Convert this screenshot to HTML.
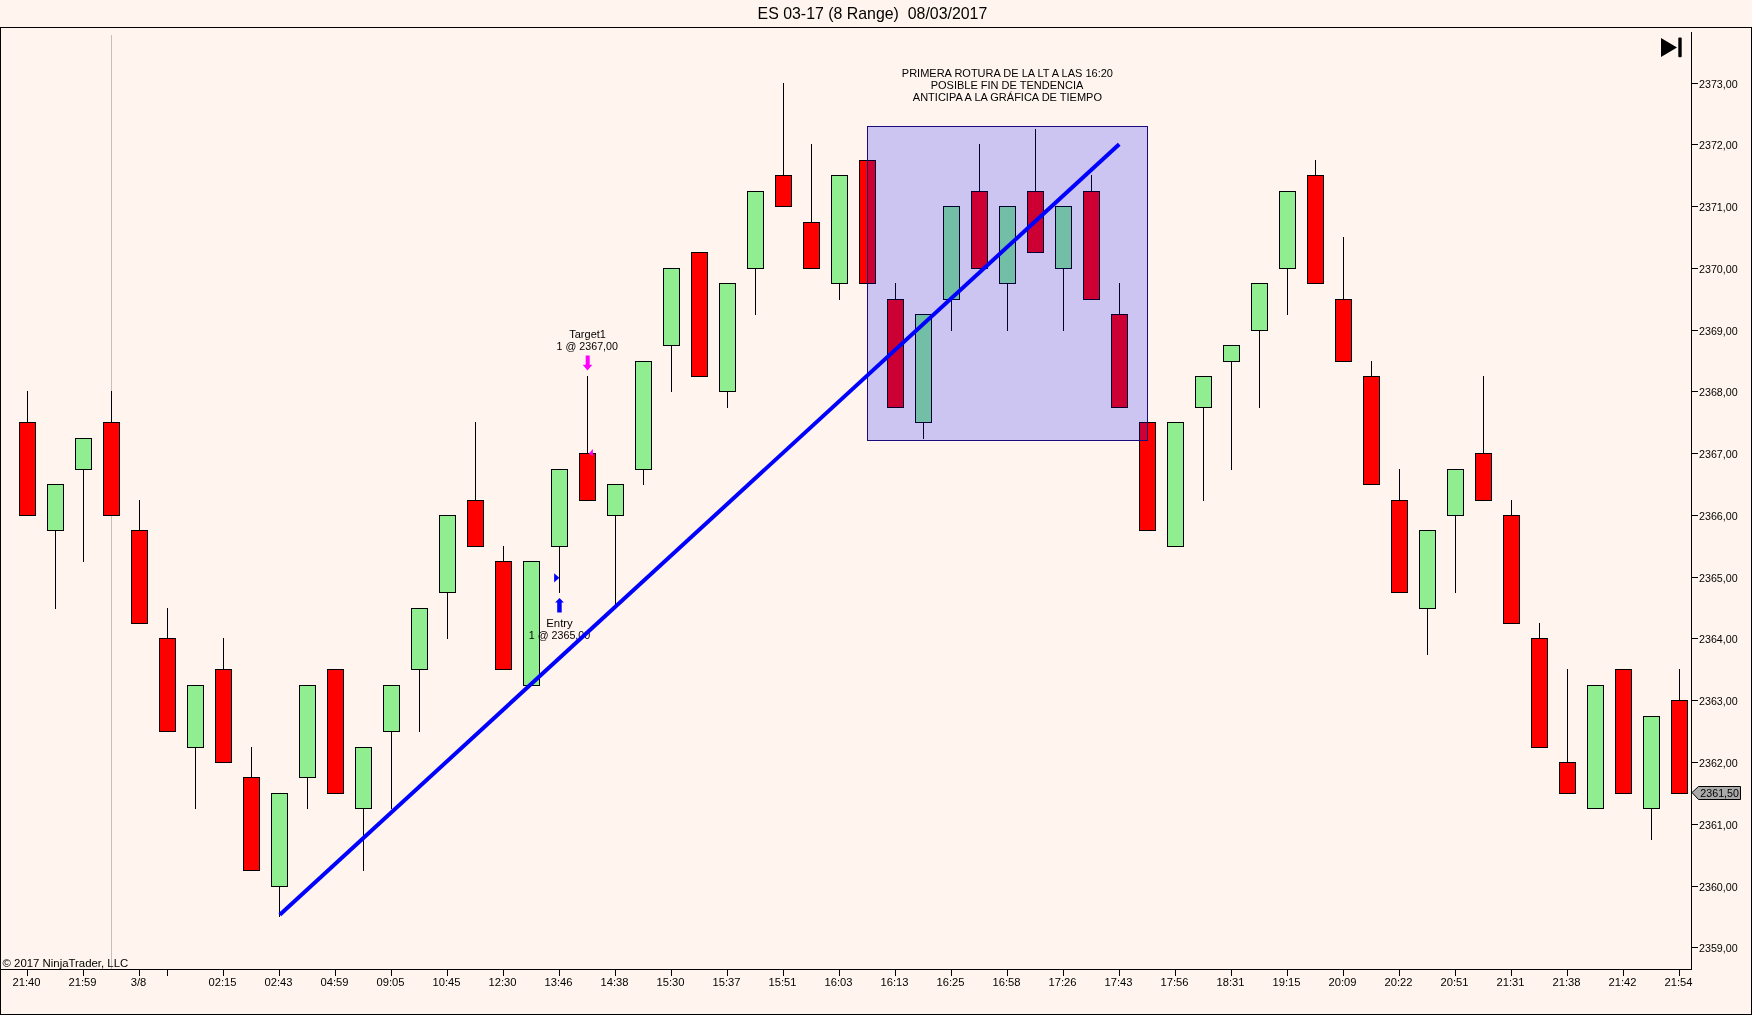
<!DOCTYPE html><html><head><meta charset="utf-8"><style>
html,body{margin:0;padding:0;background:#FFF5EE;width:1752px;height:1015px;overflow:hidden}
svg{display:block;will-change:transform}text{font-family:"Liberation Sans", sans-serif;fill:#000}
</style></head><body>
<svg width="1752" height="1015" viewBox="0 0 1752 1015">
<rect x="0" y="0" width="1752" height="1015" fill="#FFF5EE"/>
<text x="872.4" y="18.8" text-anchor="middle" style="font-size:15.9px">ES 03-17 (8 Range)&#160; 08/03/2017</text>
<g shape-rendering="crispEdges" fill="none" stroke="#000" stroke-width="1">
<path d="M0.5 27.5H1751.5V1014.5H0.5Z"/>
</g>
<line x1="111.5" y1="35" x2="111.5" y2="969" stroke="#C8BFBC" stroke-width="1" shape-rendering="crispEdges"/>
<g shape-rendering="crispEdges" stroke="#000" stroke-width="1">
<line x1="1691.5" y1="32" x2="1691.5" y2="970"/>
<line x1="0" y1="969.5" x2="1692" y2="969.5"/>
<line x1="1692" y1="947.5" x2="1698" y2="947.5"/>
<line x1="1692" y1="886.5" x2="1698" y2="886.5"/>
<line x1="1692" y1="824.5" x2="1698" y2="824.5"/>
<line x1="1692" y1="762.5" x2="1698" y2="762.5"/>
<line x1="1692" y1="700.5" x2="1698" y2="700.5"/>
<line x1="1692" y1="638.5" x2="1698" y2="638.5"/>
<line x1="1692" y1="577.5" x2="1698" y2="577.5"/>
<line x1="1692" y1="515.5" x2="1698" y2="515.5"/>
<line x1="1692" y1="453.5" x2="1698" y2="453.5"/>
<line x1="1692" y1="391.5" x2="1698" y2="391.5"/>
<line x1="1692" y1="330.5" x2="1698" y2="330.5"/>
<line x1="1692" y1="268.5" x2="1698" y2="268.5"/>
<line x1="1692" y1="206.5" x2="1698" y2="206.5"/>
<line x1="1692" y1="144.5" x2="1698" y2="144.5"/>
<line x1="1692" y1="83.5" x2="1698" y2="83.5"/>
<line x1="27.5" y1="970" x2="27.5" y2="976"/>
<line x1="83.5" y1="970" x2="83.5" y2="976"/>
<line x1="139.5" y1="970" x2="139.5" y2="976"/>
<line x1="167.5" y1="970" x2="167.5" y2="976"/>
<line x1="223.5" y1="970" x2="223.5" y2="976"/>
<line x1="279.5" y1="970" x2="279.5" y2="976"/>
<line x1="335.5" y1="970" x2="335.5" y2="976"/>
<line x1="391.5" y1="970" x2="391.5" y2="976"/>
<line x1="447.5" y1="970" x2="447.5" y2="976"/>
<line x1="503.5" y1="970" x2="503.5" y2="976"/>
<line x1="559.5" y1="970" x2="559.5" y2="976"/>
<line x1="615.5" y1="970" x2="615.5" y2="976"/>
<line x1="671.5" y1="970" x2="671.5" y2="976"/>
<line x1="727.5" y1="970" x2="727.5" y2="976"/>
<line x1="783.5" y1="970" x2="783.5" y2="976"/>
<line x1="839.5" y1="970" x2="839.5" y2="976"/>
<line x1="895.5" y1="970" x2="895.5" y2="976"/>
<line x1="951.5" y1="970" x2="951.5" y2="976"/>
<line x1="1007.5" y1="970" x2="1007.5" y2="976"/>
<line x1="1063.5" y1="970" x2="1063.5" y2="976"/>
<line x1="1119.5" y1="970" x2="1119.5" y2="976"/>
<line x1="1175.5" y1="970" x2="1175.5" y2="976"/>
<line x1="1231.5" y1="970" x2="1231.5" y2="976"/>
<line x1="1287.5" y1="970" x2="1287.5" y2="976"/>
<line x1="1343.5" y1="970" x2="1343.5" y2="976"/>
<line x1="1399.5" y1="970" x2="1399.5" y2="976"/>
<line x1="1455.5" y1="970" x2="1455.5" y2="976"/>
<line x1="1511.5" y1="970" x2="1511.5" y2="976"/>
<line x1="1567.5" y1="970" x2="1567.5" y2="976"/>
<line x1="1623.5" y1="970" x2="1623.5" y2="976"/>
<line x1="1679.5" y1="970" x2="1679.5" y2="976"/>
</g>
<g style="font-size:10.5px">
<text x="1699" y="952.2" style="font-size:10.7px">2359,00</text>
<text x="1699" y="891.2" style="font-size:10.7px">2360,00</text>
<text x="1699" y="829.2" style="font-size:10.7px">2361,00</text>
<text x="1699" y="767.2" style="font-size:10.7px">2362,00</text>
<text x="1699" y="705.2" style="font-size:10.7px">2363,00</text>
<text x="1699" y="643.2" style="font-size:10.7px">2364,00</text>
<text x="1699" y="582.2" style="font-size:10.7px">2365,00</text>
<text x="1699" y="520.2" style="font-size:10.7px">2366,00</text>
<text x="1699" y="458.2" style="font-size:10.7px">2367,00</text>
<text x="1699" y="396.2" style="font-size:10.7px">2368,00</text>
<text x="1699" y="335.2" style="font-size:10.7px">2369,00</text>
<text x="1699" y="273.2" style="font-size:10.7px">2370,00</text>
<text x="1699" y="211.2" style="font-size:10.7px">2371,00</text>
<text x="1699" y="149.2" style="font-size:10.7px">2372,00</text>
<text x="1699" y="88.2" style="font-size:10.7px">2373,00</text>
<text x="26.5" y="986" text-anchor="middle" style="font-size:11.2px">21:40</text>
<text x="82.5" y="986" text-anchor="middle" style="font-size:11.2px">21:59</text>
<text x="138.5" y="986" text-anchor="middle" style="font-size:11.2px">3/8</text>
<text x="222.5" y="986" text-anchor="middle" style="font-size:11.2px">02:15</text>
<text x="278.5" y="986" text-anchor="middle" style="font-size:11.2px">02:43</text>
<text x="334.5" y="986" text-anchor="middle" style="font-size:11.2px">04:59</text>
<text x="390.5" y="986" text-anchor="middle" style="font-size:11.2px">09:05</text>
<text x="446.5" y="986" text-anchor="middle" style="font-size:11.2px">10:45</text>
<text x="502.5" y="986" text-anchor="middle" style="font-size:11.2px">12:30</text>
<text x="558.5" y="986" text-anchor="middle" style="font-size:11.2px">13:46</text>
<text x="614.5" y="986" text-anchor="middle" style="font-size:11.2px">14:38</text>
<text x="670.5" y="986" text-anchor="middle" style="font-size:11.2px">15:30</text>
<text x="726.5" y="986" text-anchor="middle" style="font-size:11.2px">15:37</text>
<text x="782.5" y="986" text-anchor="middle" style="font-size:11.2px">15:51</text>
<text x="838.5" y="986" text-anchor="middle" style="font-size:11.2px">16:03</text>
<text x="894.5" y="986" text-anchor="middle" style="font-size:11.2px">16:13</text>
<text x="950.5" y="986" text-anchor="middle" style="font-size:11.2px">16:25</text>
<text x="1006.5" y="986" text-anchor="middle" style="font-size:11.2px">16:58</text>
<text x="1062.5" y="986" text-anchor="middle" style="font-size:11.2px">17:26</text>
<text x="1118.5" y="986" text-anchor="middle" style="font-size:11.2px">17:43</text>
<text x="1174.5" y="986" text-anchor="middle" style="font-size:11.2px">17:56</text>
<text x="1230.5" y="986" text-anchor="middle" style="font-size:11.2px">18:31</text>
<text x="1286.5" y="986" text-anchor="middle" style="font-size:11.2px">19:15</text>
<text x="1342.5" y="986" text-anchor="middle" style="font-size:11.2px">20:09</text>
<text x="1398.5" y="986" text-anchor="middle" style="font-size:11.2px">20:22</text>
<text x="1454.5" y="986" text-anchor="middle" style="font-size:11.2px">20:51</text>
<text x="1510.5" y="986" text-anchor="middle" style="font-size:11.2px">21:31</text>
<text x="1566.5" y="986" text-anchor="middle" style="font-size:11.2px">21:38</text>
<text x="1622.5" y="986" text-anchor="middle" style="font-size:11.2px">21:42</text>
<text x="1678.5" y="986" text-anchor="middle" style="font-size:11.2px">21:54</text>
</g>
<g shape-rendering="crispEdges" stroke="#000" stroke-width="1">
<line x1="27.5" y1="391" x2="27.5" y2="422"/>
<rect x="19.5" y="422.5" width="16" height="93" fill="#FF0000"/>
<line x1="55.5" y1="531" x2="55.5" y2="609"/>
<rect x="47.5" y="484.5" width="16" height="46" fill="#90EE90"/>
<line x1="83.5" y1="470" x2="83.5" y2="562"/>
<rect x="75.5" y="438.5" width="16" height="31" fill="#90EE90"/>
<line x1="111.5" y1="391" x2="111.5" y2="422"/>
<rect x="103.5" y="422.5" width="16" height="93" fill="#FF0000"/>
<line x1="139.5" y1="500" x2="139.5" y2="530"/>
<rect x="131.5" y="530.5" width="16" height="93" fill="#FF0000"/>
<line x1="167.5" y1="608" x2="167.5" y2="638"/>
<rect x="159.5" y="638.5" width="16" height="93" fill="#FF0000"/>
<line x1="195.5" y1="748" x2="195.5" y2="809"/>
<rect x="187.5" y="685.5" width="16" height="62" fill="#90EE90"/>
<line x1="223.5" y1="638" x2="223.5" y2="669"/>
<rect x="215.5" y="669.5" width="16" height="93" fill="#FF0000"/>
<line x1="251.5" y1="747" x2="251.5" y2="777"/>
<rect x="243.5" y="777.5" width="16" height="93" fill="#FF0000"/>
<line x1="279.5" y1="887" x2="279.5" y2="917"/>
<rect x="271.5" y="793.5" width="16" height="93" fill="#90EE90"/>
<line x1="307.5" y1="778" x2="307.5" y2="809"/>
<rect x="299.5" y="685.5" width="16" height="92" fill="#90EE90"/>
<rect x="327.5" y="669.5" width="16" height="124" fill="#FF0000"/>
<line x1="363.5" y1="809" x2="363.5" y2="871"/>
<rect x="355.5" y="747.5" width="16" height="61" fill="#90EE90"/>
<line x1="391.5" y1="732" x2="391.5" y2="809"/>
<rect x="383.5" y="685.5" width="16" height="46" fill="#90EE90"/>
<line x1="419.5" y1="670" x2="419.5" y2="732"/>
<rect x="411.5" y="608.5" width="16" height="61" fill="#90EE90"/>
<line x1="447.5" y1="593" x2="447.5" y2="639"/>
<rect x="439.5" y="515.5" width="16" height="77" fill="#90EE90"/>
<line x1="475.5" y1="422" x2="475.5" y2="500"/>
<rect x="467.5" y="500.5" width="16" height="46" fill="#FF0000"/>
<line x1="503.5" y1="546" x2="503.5" y2="561"/>
<rect x="495.5" y="561.5" width="16" height="108" fill="#FF0000"/>
<rect x="523.5" y="561.5" width="16" height="124" fill="#90EE90"/>
<line x1="559.5" y1="547" x2="559.5" y2="593"/>
<rect x="551.5" y="469.5" width="16" height="77" fill="#90EE90"/>
<line x1="587.5" y1="376" x2="587.5" y2="453"/>
<rect x="579.5" y="453.5" width="16" height="47" fill="#FF0000"/>
<line x1="615.5" y1="516" x2="615.5" y2="609"/>
<rect x="607.5" y="484.5" width="16" height="31" fill="#90EE90"/>
<line x1="643.5" y1="470" x2="643.5" y2="485"/>
<rect x="635.5" y="361.5" width="16" height="108" fill="#90EE90"/>
<line x1="671.5" y1="346" x2="671.5" y2="392"/>
<rect x="663.5" y="268.5" width="16" height="77" fill="#90EE90"/>
<rect x="691.5" y="252.5" width="16" height="124" fill="#FF0000"/>
<line x1="727.5" y1="392" x2="727.5" y2="408"/>
<rect x="719.5" y="283.5" width="16" height="108" fill="#90EE90"/>
<line x1="755.5" y1="269" x2="755.5" y2="315"/>
<rect x="747.5" y="191.5" width="16" height="77" fill="#90EE90"/>
<line x1="783.5" y1="83" x2="783.5" y2="175"/>
<rect x="775.5" y="175.5" width="16" height="31" fill="#FF0000"/>
<line x1="811.5" y1="144" x2="811.5" y2="222"/>
<rect x="803.5" y="222.5" width="16" height="46" fill="#FF0000"/>
<line x1="839.5" y1="284" x2="839.5" y2="300"/>
<rect x="831.5" y="175.5" width="16" height="108" fill="#90EE90"/>
<rect x="859.5" y="160.5" width="16" height="123" fill="#FF0000"/>
<line x1="895.5" y1="283" x2="895.5" y2="299"/>
<rect x="887.5" y="299.5" width="16" height="108" fill="#FF0000"/>
<line x1="923.5" y1="423" x2="923.5" y2="439"/>
<rect x="915.5" y="314.5" width="16" height="108" fill="#90EE90"/>
<line x1="951.5" y1="300" x2="951.5" y2="331"/>
<rect x="943.5" y="206.5" width="16" height="93" fill="#90EE90"/>
<line x1="979.5" y1="144" x2="979.5" y2="191"/>
<rect x="971.5" y="191.5" width="16" height="77" fill="#FF0000"/>
<line x1="1007.5" y1="284" x2="1007.5" y2="331"/>
<rect x="999.5" y="206.5" width="16" height="77" fill="#90EE90"/>
<line x1="1035.5" y1="129" x2="1035.5" y2="191"/>
<rect x="1027.5" y="191.5" width="16" height="61" fill="#FF0000"/>
<line x1="1063.5" y1="269" x2="1063.5" y2="331"/>
<rect x="1055.5" y="206.5" width="16" height="62" fill="#90EE90"/>
<line x1="1091.5" y1="175" x2="1091.5" y2="191"/>
<rect x="1083.5" y="191.5" width="16" height="108" fill="#FF0000"/>
<line x1="1119.5" y1="283" x2="1119.5" y2="314"/>
<rect x="1111.5" y="314.5" width="16" height="93" fill="#FF0000"/>
<rect x="1139.5" y="422.5" width="16" height="108" fill="#FF0000"/>
<rect x="1167.5" y="422.5" width="16" height="124" fill="#90EE90"/>
<line x1="1203.5" y1="408" x2="1203.5" y2="501"/>
<rect x="1195.5" y="376.5" width="16" height="31" fill="#90EE90"/>
<line x1="1231.5" y1="362" x2="1231.5" y2="470"/>
<rect x="1223.5" y="345.5" width="16" height="16" fill="#90EE90"/>
<line x1="1259.5" y1="331" x2="1259.5" y2="408"/>
<rect x="1251.5" y="283.5" width="16" height="47" fill="#90EE90"/>
<line x1="1287.5" y1="269" x2="1287.5" y2="315"/>
<rect x="1279.5" y="191.5" width="16" height="77" fill="#90EE90"/>
<line x1="1315.5" y1="160" x2="1315.5" y2="175"/>
<rect x="1307.5" y="175.5" width="16" height="108" fill="#FF0000"/>
<line x1="1343.5" y1="237" x2="1343.5" y2="299"/>
<rect x="1335.5" y="299.5" width="16" height="62" fill="#FF0000"/>
<line x1="1371.5" y1="361" x2="1371.5" y2="376"/>
<rect x="1363.5" y="376.5" width="16" height="108" fill="#FF0000"/>
<line x1="1399.5" y1="469" x2="1399.5" y2="500"/>
<rect x="1391.5" y="500.5" width="16" height="92" fill="#FF0000"/>
<line x1="1427.5" y1="609" x2="1427.5" y2="655"/>
<rect x="1419.5" y="530.5" width="16" height="78" fill="#90EE90"/>
<line x1="1455.5" y1="516" x2="1455.5" y2="593"/>
<rect x="1447.5" y="469.5" width="16" height="46" fill="#90EE90"/>
<line x1="1483.5" y1="376" x2="1483.5" y2="453"/>
<rect x="1475.5" y="453.5" width="16" height="47" fill="#FF0000"/>
<line x1="1511.5" y1="500" x2="1511.5" y2="515"/>
<rect x="1503.5" y="515.5" width="16" height="108" fill="#FF0000"/>
<line x1="1539.5" y1="623" x2="1539.5" y2="638"/>
<rect x="1531.5" y="638.5" width="16" height="109" fill="#FF0000"/>
<line x1="1567.5" y1="669" x2="1567.5" y2="762"/>
<rect x="1559.5" y="762.5" width="16" height="31" fill="#FF0000"/>
<rect x="1587.5" y="685.5" width="16" height="123" fill="#90EE90"/>
<rect x="1615.5" y="669.5" width="16" height="124" fill="#FF0000"/>
<line x1="1651.5" y1="809" x2="1651.5" y2="840"/>
<rect x="1643.5" y="716.5" width="16" height="92" fill="#90EE90"/>
<line x1="1679.5" y1="669" x2="1679.5" y2="700"/>
<rect x="1671.5" y="700.5" width="16" height="93" fill="#FF0000"/>
</g>
<text x="2.5" y="967" style="font-size:11.4px">&#169; 2017 NinjaTrader, LLC</text>
<g style="font-size:11px" text-anchor="middle">
<text x="1007.4" y="77">PRIMERA ROTURA DE LA LT A LAS 16:20</text>
<text x="1007" y="89">POSIBLE FIN DE TENDENCIA</text>
<text x="1007.4" y="101">ANTICIPA A LA GR&#193;FICA DE TIEMPO</text>
</g>
<g style="font-size:10.7px" text-anchor="middle">
<text x="587.6" y="338" style="font-size:11px">Target1</text>
<text x="587.3" y="350.3">1 @ 2367,00</text>
<text x="559.5" y="626.7" style="font-size:11.4px">Entry</text>
<text x="559.5" y="638.6">1 @ 2365,00</text>
</g>
<path d="M585.7 355.5H589.7V364.8H592.3L587.5 370.5L582.7 364.8H585.7Z" fill="#FF00FF"/>
<path d="M592.9 449.1L588.9 453.4L592.9 456.2Z" fill="#FF00FF"/>
<path d="M557.2 612.4H561.7V602.6H563.9L559.5 597.9L555.1 602.6H557.2Z" fill="#0000FF"/>
<path d="M554.1 573.2L559.4 577.8L554.1 582.6Z" fill="#0000FF"/>
<rect x="867.5" y="126.5" width="280" height="314" fill="rgba(0,0,255,0.2)" stroke="#180C7C" stroke-width="1" shape-rendering="crispEdges"/>
<line x1="279.8" y1="914.8" x2="1119.2" y2="144.2" stroke="#0000FF" stroke-width="4"/>
<path d="M1692 792.5L1698.5 786.5H1740.5V799.5H1698.5Z" fill="#AAAAAA" stroke="#000" stroke-width="1"/>
<text x="1700.3" y="796.9" style="font-size:10.7px">2361,50</text>
<path d="M1661 38L1677 47.5L1661 57Z" fill="#000"/>
<rect x="1678.3" y="37.6" width="3.4" height="19.6" rx="1" fill="#000"/>
</svg></body></html>
